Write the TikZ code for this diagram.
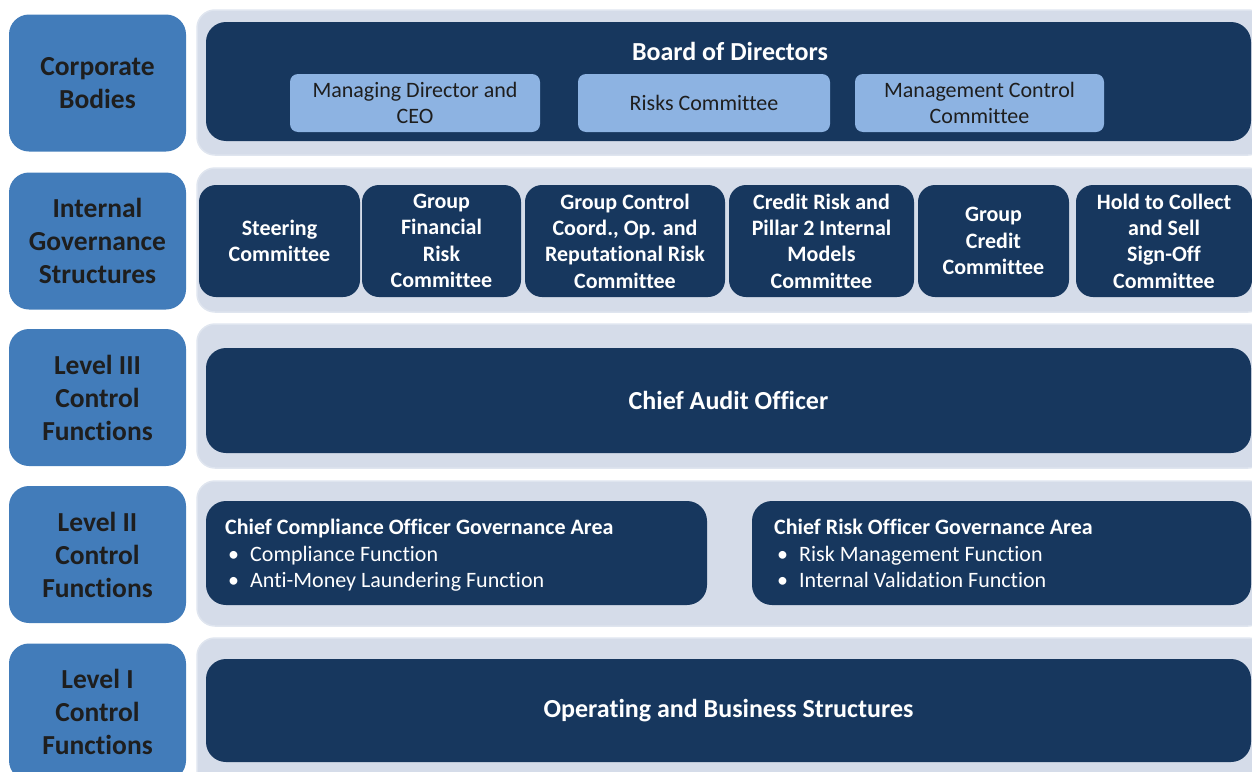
\documentclass[tikz,border=0pt]{standalone}
\usepackage{fontspec}
\setmainfont[Ligatures=NoCommon]{Carlito}
\definecolor{leftblue}{HTML}{427CBA}
\definecolor{panelc}{HTML}{D5DCE9}
\definecolor{paneledge}{HTML}{DFE5EF}
\definecolor{navy}{HTML}{17375E}
\definecolor{lightblue}{HTML}{8DB3E2}
\definecolor{ink}{HTML}{1E1E1E}
\begin{document}
\begin{tikzpicture}[x=1pt,y=-1pt,
  lbl/.style={rectangle, rounded corners=20pt, fill=leftblue, text=ink,
    font=\fontsize{27.5}{33}\selectfont\bfseries, align=center,
    minimum width=177pt, minimum height=137pt, inner sep=0pt},
  panelbox/.style={fill=panelc, draw=paneledge, line width=1.5pt, rounded corners=18pt},
  darkbox/.style={rectangle, rounded corners=20pt, fill=navy, text=white,
    font=\fontsize{26}{30}\selectfont\bfseries, align=center, inner sep=0pt},
  combox/.style={rectangle, rounded corners=17pt, fill=navy, text=white,
    font=\fontsize{22}{26.4}\selectfont\bfseries, align=center, inner sep=0pt,
    minimum height=112pt},
  subbox/.style={rectangle, rounded corners=8pt, fill=lightblue, text=ink,
    font=\fontsize{22}{26}\selectfont, align=center, inner sep=0pt,
    minimum height=58pt},
  areatext/.style={anchor=north west, text=white, align=left, inner sep=0pt,
    font=\fontsize{22}{26.5}\selectfont}
]
\useasboundingbox (0,0) rectangle (1252,771);
\clip (0,0) rectangle (1252,771);

% background panels
\path[panelbox] (197,10) rectangle (1266,155);
\path[panelbox] (197,168) rectangle (1266,312);
\path[panelbox] (197,324) rectangle (1266,468);
\path[panelbox] (197,481) rectangle (1266,626);
\path[panelbox] (197,638) rectangle (1266,790);

% left labels
\node[lbl] (l1) at (97.5,83) {Corporate\\Bodies};
\node[lbl] (l2) at (97.5,241) {Internal\\Governance\\Structures};
\node[lbl] (l3) at (97.5,397.5) {Level III\\Control\\Functions};
\node[lbl] (l4) at (97.5,554.5) {Level II\\Control\\Functions};
\node[lbl] (l5) at (97.5,712) {Level I\\Control\\Functions};

% row 1
\node[darkbox, minimum width=1045pt, minimum height=119pt] (board) at (728.5,81.5) {};
\node[text=white, font=\fontsize{26}{30}\selectfont\bfseries, inner sep=0pt] (boardt) at (730,51) {Board of Directors};
\node[subbox, minimum width=250pt] (md) at (415,103) {Managing Director and\\CEO};
\node[subbox, minimum width=252pt] (rc) at (704,103) {Risks Committee};
\node[subbox, minimum width=249pt] (mcc) at (979.5,103) {Management Control\\Committee};

% row 2
\node[combox, minimum width=161pt] (sc) at (279.5,241) {Steering\\Committee};
\node[combox, minimum width=159pt] (gfr) at (441.5,241) {Group\\Financial\\Risk\\Committee};
\node[combox, minimum width=200pt] (gcc) at (625,241) {Group Control\\Coord., Op. and\\Reputational Risk\\Committee};
\node[combox, minimum width=185pt] (crp) at (821.5,241) {Credit Risk and\\Pillar 2 Internal\\Models\\Committee};
\node[combox, minimum width=151pt] (gc) at (993.5,241) {Group\\Credit\\Committee};
\node[combox, minimum width=176pt] (htc) at (1164,241) {Hold to Collect\\and Sell\\Sign-Off\\Committee};

% row 3
\node[darkbox, minimum width=1045pt, minimum height=105pt] (cao) at (728.5,400.5) {Chief Audit Officer};

% row 4
\node[darkbox, minimum width=501pt, minimum height=104pt] (cco) at (456.5,553) {};
\node[darkbox, minimum width=499pt, minimum height=104pt] (cro) at (1001.5,553) {};
\node[areatext] (ccot) at (225,519) {\textbf{Chief Compliance Officer Governance Area}\\
  \hspace*{3pt}\makebox[22pt][l]{•}Compliance Function\\
  \hspace*{3pt}\makebox[22pt][l]{•}Anti-Money Laundering Function};
\node[areatext] (crot) at (774,519) {\textbf{Chief Risk Officer Governance Area}\\
  \hspace*{3pt}\makebox[22pt][l]{•}Risk Management Function\\
  \hspace*{3pt}\makebox[22pt][l]{•}Internal Validation Function};

% row 5
\node[darkbox, minimum width=1045pt, minimum height=103pt] (obs) at (728.5,710.5) {Operating and Business Structures};
\end{tikzpicture}
\end{document}
